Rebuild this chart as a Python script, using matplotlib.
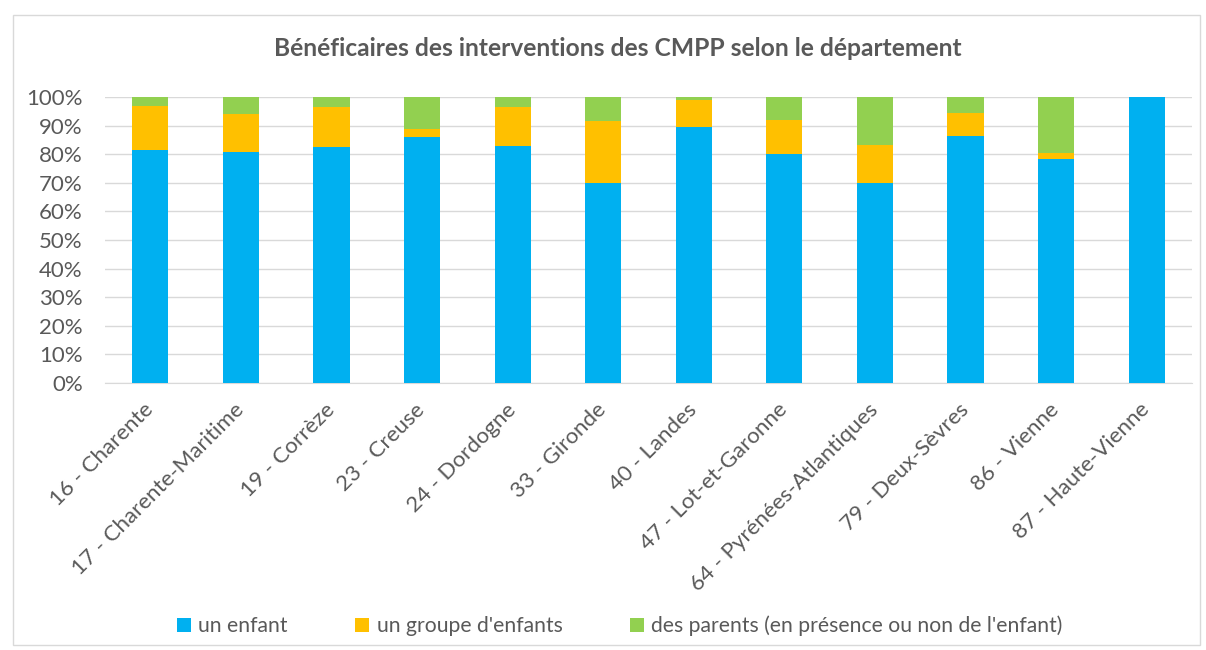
import numpy as np
import matplotlib.pyplot as plt
from matplotlib.patches import Rectangle
from matplotlib.ticker import FuncFormatter

plt.rcParams['font.family'] = ['Lato', 'DejaVu Sans']

departements = ['16 - Charente', '17 - Charente-Maritime', '19 - Corrèze', '23 - Creuse',
                '24 - Dordogne', '33 - Gironde', '40 - Landes', '47 - Lot-et-Garonne',
                '64 - Pyrénées-Atlantiques', '79 - Deux-Sèvres', '86 - Vienne', '87 - Haute-Vienne']
un_enfant = [81.6, 80.8, 82.5, 85.9, 82.9, 69.8, 89.4, 80.0, 70.0, 86.4, 78.2, 100.0]
groupe_enfants = [15.4, 13.3, 14.1, 3.0, 13.7, 21.7, 9.7, 12.0, 13.3, 8.1, 2.2, 0.0]
parents = [3.0, 5.9, 3.4, 11.1, 3.4, 8.5, 0.9, 8.0, 16.7, 5.5, 19.6, 0.0]

c_enfant = '#00B0F0'
c_groupe = '#FFC000'
c_parents = '#92D050'
gris = '#595959'

fig = plt.figure(figsize=(12.06, 6.5), dpi=100)
fig.patches.append(Rectangle((13 / 1206, 5 / 650), 1187 / 1206, 630 / 650,
                             transform=fig.transFigure, fill=False,
                             edgecolor='#D9D9D9', linewidth=1))
ax = fig.add_axes([105 / 1206, 1 - 383 / 650, 1087 / 1206, 286 / 650])

x = np.arange(len(departements))
a = np.array(un_enfant)
b = np.array(groupe_enfants)
c = np.array(parents)
w = 0.4
ax.bar(x, a, w, color=c_enfant, label='un enfant', zorder=3)
ax.bar(x, b, w, bottom=a, color=c_groupe, label="un groupe d'enfants", zorder=3)
ax.bar(x, c, w, bottom=a + b, color=c_parents,
       label="des parents (en présence ou non de l'enfant)", zorder=3)

ax.set_xlim(-0.5, len(departements) - 0.5)
ax.set_ylim(0, 100)
ax.set_yticks(np.arange(0, 101, 10))
ax.yaxis.set_major_formatter(FuncFormatter(lambda v, p: f'{v:.0f}%'))
ax.grid(axis='y', color='#D9D9D9', linewidth=1, zorder=0)
for s in ['top', 'right', 'left']:
    ax.spines[s].set_visible(False)
ax.spines['bottom'].set_color('#D9D9D9')
ax.tick_params(axis='both', length=0, colors=gris, labelsize=16)
ax.tick_params(axis='y', pad=16)
ax.tick_params(axis='x', pad=17)
ax.set_xticks(x)
ax.set_xticklabels(departements, rotation=45, ha='right', va='center',
                   rotation_mode='anchor')

fig.text(0.512, 1 - 49 / 650, 'Bénéficaires des interventions des CMPP selon le département',
         ha='center', va='center', fontsize=17.7, fontweight='bold', color=gris)

fig.legend(loc='center', bbox_to_anchor=(0.514, 1 - 626 / 650), ncol=3, frameon=False,
           fontsize=15.2, labelcolor=gris, handlelength=0.65, handleheight=0.65,
           handletextpad=0.35, columnspacing=3.2)

fig.savefig('out.png', dpi=100)
